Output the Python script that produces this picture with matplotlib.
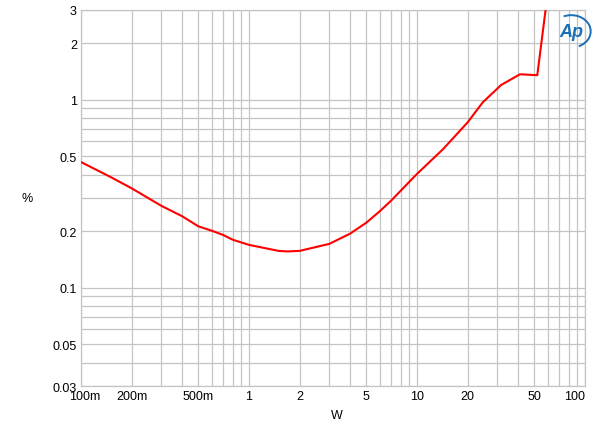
import matplotlib
matplotlib.use("Agg")
import matplotlib.pyplot as plt
import matplotlib.transforms as mtransforms
from matplotlib.ticker import FixedLocator, NullFormatter
from matplotlib.patches import Arc

plt.rcParams['font.family'] = ['Liberation Sans', 'DejaVu Sans']

# ---- data (power W vs THD+N %) ----
power_w = [0.1, 0.15, 0.2, 0.3, 0.4, 0.5, 0.6, 0.7, 0.8, 1.0, 1.5, 1.7, 2.0,
           3.0, 4.0, 5.0, 6.0, 7.0, 8.0, 9.0, 10.0, 14.3, 20.0, 24.6, 31.7,
           41.0, 52.0, 60.0]
thd_pct = [0.466, 0.388, 0.338, 0.273, 0.240, 0.212, 0.201, 0.191, 0.180,
           0.169, 0.157, 0.156, 0.157, 0.171, 0.194, 0.222, 0.255, 0.290,
           0.328, 0.366, 0.403, 0.546, 0.757, 0.967, 1.198, 1.365, 1.35, 3.7]

x_ticks = [0.1, 0.2, 0.5, 1, 2, 5, 10, 20, 50, 100]
x_labels = ['100m', '200m', '500m', '1', '2', '5', '10', '20', '50', '100']
y_ticks = [0.03, 0.05, 0.1, 0.2, 0.5, 1, 2, 3]
y_labels = ['0.03', '0.05', '0.1', '0.2', '0.5', '1', '2', '3']

x_minor = [m * d for d in (0.1, 1, 10) for m in range(2, 10)]
y_minor = [m * d for d in (0.01, 0.1, 1) for m in range(2, 10) if 0.03 <= m * d <= 3]

fig = plt.figure(figsize=(6.0, 4.31), dpi=100)
ax = fig.add_axes([0.135, 0.102, 0.84, 0.8725])

ax.plot(power_w, thd_pct, color='#ff0000', linewidth=1.5, zorder=3)

ax.set_xscale('log')
ax.set_yscale('log')
ax.set_xlim(0.1, 100)
ax.set_ylim(0.03, 3)

ax.xaxis.set_major_locator(FixedLocator(x_ticks))
ax.xaxis.set_minor_locator(FixedLocator(x_minor))
ax.yaxis.set_major_locator(FixedLocator(y_ticks))
ax.yaxis.set_minor_locator(FixedLocator(y_minor))
ax.set_xticklabels(x_labels)
ax.set_yticklabels(y_labels)
ax.xaxis.set_minor_formatter(NullFormatter())
ax.yaxis.set_minor_formatter(NullFormatter())

ax.grid(True, which='both', color='#c4c4c4', linewidth=0.9)
ax.set_axisbelow(True)
ax.tick_params(which='both', length=0, labelsize=9, colors='#000000', pad=3)

# edge labels pulled inwards like the original
xl = ax.get_xticklabels()
xl[0].set_transform(xl[0].get_transform() + mtransforms.ScaledTranslation(4 / 100, 0, fig.dpi_scale_trans))
xl[-1].set_transform(xl[-1].get_transform() + mtransforms.ScaledTranslation(-10 / 100, 0, fig.dpi_scale_trans))

for s in ax.spines.values():
    s.set_color('#c4c4c4')
    s.set_linewidth(0.9)

ax.set_xlabel('W', fontsize=9, labelpad=5)
ax.xaxis.set_label_coords(0.508, -0.062)
ax.set_ylabel('%', fontsize=9, rotation=0, labelpad=18, va='center')

# AP logo
fig.text(0.952, 0.925, 'Ap', color='#1a6fb5', fontsize=13, fontstyle='italic',
         fontweight='bold', ha='center', va='center')
fig.patches.append(Arc((0.952, 0.925), 0.065, 0.075, theta1=-70, theta2=110,
                       transform=fig.transFigure, color='#1a6fb5', linewidth=1.4))

fig.savefig('out.png', dpi=100)
